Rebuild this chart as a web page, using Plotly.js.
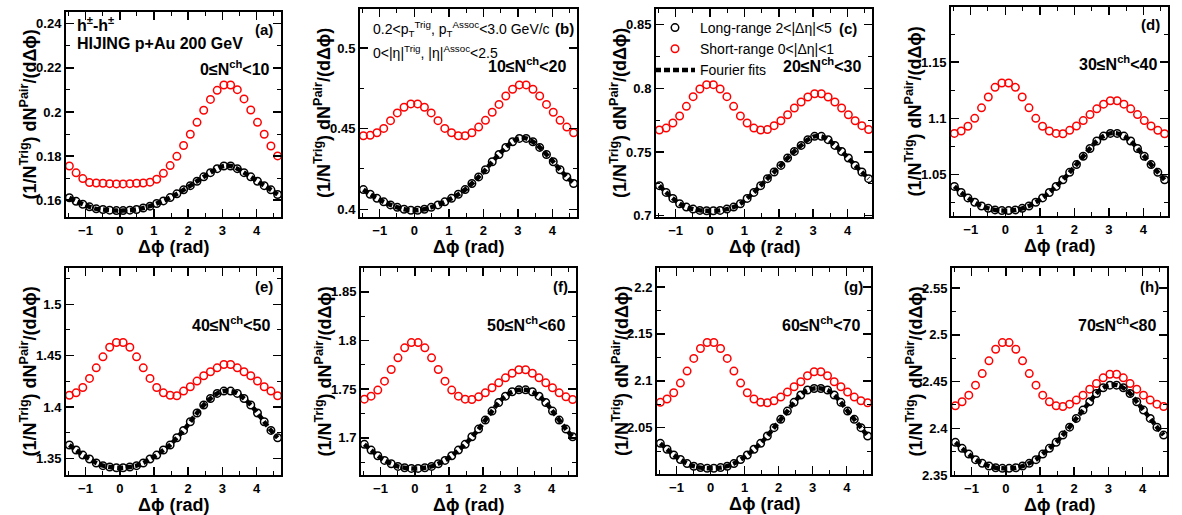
<!DOCTYPE html>
<html>
<head>
<meta charset="utf-8">
<script src="https://cdn.plot.ly/plotly-3.0.1.min.js"></script>
<style>
  html, body { margin: 0; padding: 0; background: #ffffff; }
  #chart { width: 1182px; height: 515px; }
</style>
</head>
<body>
<div id="chart"></div>
<script>
// Δφ bin centres (rad), 32 bins over [-π/2, 3π/2]
const dphi = [-1.473, -1.276, -1.080, -0.884, -0.687, -0.491, -0.295, -0.098,
               0.098,  0.295,  0.491,  0.687,  0.884,  1.080,  1.276,  1.473,
               1.669,  1.865,  2.062,  2.258,  2.454,  2.651,  2.847,  3.043,
               3.240,  3.436,  3.632,  3.829,  4.025,  4.222,  4.418,  4.614];

// Short-range (0<|Δη|<1) and long-range (2<|Δη|<5) per-trigger pair yields
const shortA = [0.1755,0.1724,0.1698,0.1680,0.1678,0.1677,0.1675,0.1674,0.1674,0.1675,0.1677,0.1678,0.1682,0.1695,0.1722,0.1757,
                0.1799,0.1848,0.1899,0.1953,0.2008,0.2057,0.2098,0.2122,0.2122,0.2101,0.2059,0.2009,0.1953,0.1899,0.1846,0.1801];
const longA  = [0.1611,0.1595,0.1582,0.1570,0.1561,0.1558,0.1555,0.1553,0.1553,0.1555,0.1558,0.1565,0.1573,0.1585,0.1597,0.1612,
                0.1629,0.1647,0.1666,0.1686,0.1706,0.1725,0.1743,0.1755,0.1755,0.1743,0.1725,0.1706,0.1686,0.1666,0.1647,0.1626];

const shortB = [0.4456,0.4459,0.4475,0.4502,0.4550,0.4598,0.4633,0.4654,0.4654,0.4633,0.4598,0.4550,0.4502,0.4475,0.4456,0.4456,
                0.4475,0.4510,0.4552,0.4602,0.4651,0.4703,0.4745,0.4772,0.4772,0.4745,0.4703,0.4651,0.4602,0.4552,0.4510,0.4475];
const longB  = [0.4122,0.4093,0.4068,0.4046,0.4027,0.4012,0.4000,0.3994,0.3994,0.4000,0.4012,0.4027,0.4046,0.4068,0.4093,0.4122,
                0.4160,0.4201,0.4245,0.4295,0.4340,0.4384,0.4419,0.4440,0.4440,0.4419,0.4384,0.4340,0.4295,0.4245,0.4201,0.4160];

const shortC = [0.7673,0.7688,0.7728,0.7783,0.7859,0.7935,0.7995,0.8029,0.8029,0.7995,0.7935,0.7859,0.7783,0.7728,0.7688,0.7673,
                0.7676,0.7707,0.7746,0.7793,0.7846,0.7893,0.7932,0.7958,0.7958,0.7932,0.7893,0.7846,0.7793,0.7746,0.7707,0.7676];
const longC  = [0.7236,0.7183,0.7136,0.7094,0.7068,0.7052,0.7042,0.7039,0.7039,0.7042,0.7052,0.7068,0.7094,0.7136,0.7183,0.7236,
                0.7291,0.7343,0.7395,0.7453,0.7505,0.7552,0.7597,0.7623,0.7623,0.7597,0.7552,0.7505,0.7453,0.7395,0.7343,0.7291];

const shortD = [1.0867,1.0888,1.0930,1.1001,1.1094,1.1190,1.1276,1.1315,1.1315,1.1276,1.1190,1.1094,1.1001,1.0930,1.0888,1.0867,
                1.0864,1.0894,1.0933,1.0981,1.1034,1.1085,1.1127,1.1157,1.1157,1.1127,1.1085,1.1034,1.0981,1.0933,1.0894,1.0864];
const longD  = [1.0396,1.0342,1.0294,1.0255,1.0222,1.0201,1.0187,1.0181,1.0181,1.0187,1.0201,1.0222,1.0255,1.0294,1.0342,1.0396,
                1.0455,1.0521,1.0590,1.0664,1.0733,1.0799,1.0843,1.0867,1.0867,1.0843,1.0799,1.0733,1.0664,1.0590,1.0521,1.0455];

const shortE = [1.4114,1.4138,1.4190,1.4278,1.4381,1.4488,1.4582,1.4628,1.4628,1.4582,1.4488,1.4381,1.4278,1.4190,1.4138,1.4114,
                1.4109,1.4155,1.4197,1.4252,1.4304,1.4343,1.4381,1.4414,1.4414,1.4381,1.4343,1.4304,1.4252,1.4197,1.4155,1.4109];
const longE  = [1.3630,1.3581,1.3532,1.3494,1.3455,1.3429,1.3416,1.3409,1.3409,1.3416,1.3429,1.3455,1.3494,1.3532,1.3581,1.3630,
                1.3701,1.3772,1.3856,1.3941,1.4019,1.4083,1.4132,1.4155,1.4155,1.4132,1.4083,1.4019,1.3941,1.3856,1.3772,1.3701];

const shortF = [1.7397,1.7428,1.7490,1.7582,1.7702,1.7822,1.7925,1.7979,1.7979,1.7925,1.7822,1.7702,1.7582,1.7490,1.7428,1.7397,
                1.7394,1.7421,1.7462,1.7514,1.7565,1.7616,1.7664,1.7699,1.7699,1.7664,1.7616,1.7565,1.7514,1.7462,1.7421,1.7394];
const longF  = [1.6932,1.6873,1.6815,1.6767,1.6733,1.6705,1.6692,1.6685,1.6685,1.6692,1.6705,1.6733,1.6767,1.6815,1.6873,1.6932,
                1.7010,1.7089,1.7182,1.7274,1.7363,1.7428,1.7473,1.7493,1.7493,1.7473,1.7428,1.7363,1.7274,1.7182,1.7089,1.7010];

const shortG = [2.0770,2.0805,2.0872,2.0975,2.1103,2.1238,2.1344,2.1408,2.1408,2.1344,2.1238,2.1103,2.0975,2.0872,2.0805,2.0770,
                2.0766,2.0787,2.0826,2.0879,2.0936,2.0989,2.1053,2.1096,2.1096,2.1053,2.0989,2.0936,2.0879,2.0826,2.0787,2.0766];
const longG  = [2.0333,2.0270,2.0209,2.0160,2.0117,2.0089,2.0074,2.0067,2.0067,2.0074,2.0089,2.0117,2.0160,2.0209,2.0270,2.0333,
                2.0411,2.0500,2.0589,2.0677,2.0770,2.0848,2.0901,2.0918,2.0918,2.0901,2.0848,2.0770,2.0677,2.0589,2.0500,2.0411];

const shortH = [2.4240,2.4283,2.4354,2.4461,2.4585,2.4721,2.4845,2.4916,2.4916,2.4845,2.4721,2.4585,2.4461,2.4354,2.4283,2.4240,
                2.4233,2.4258,2.4301,2.4354,2.4418,2.4479,2.4539,2.4578,2.4578,2.4539,2.4479,2.4418,2.4354,2.4301,2.4258,2.4233];
const longH  = [2.3849,2.3785,2.3724,2.3664,2.3625,2.3596,2.3578,2.3571,2.3571,2.3578,2.3596,2.3625,2.3664,2.3724,2.3785,2.3849,
                2.3927,2.4012,2.4105,2.4194,2.4283,2.4372,2.4432,2.4461,2.4461,2.4432,2.4372,2.4283,2.4194,2.4105,2.4012,2.3927];

const panelTags = ['(a)', '(b)', '(c)', '(d)', '(e)', '(f)', '(g)', '(h)'];
const nchLabels = ['0≤N<sup>ch</sup>&lt;10', '10≤N<sup>ch</sup>&lt;20', '20≤N<sup>ch</sup>&lt;30', '30≤N<sup>ch</sup>&lt;40',
                   '40≤N<sup>ch</sup>&lt;50', '50≤N<sup>ch</sup>&lt;60', '60≤N<sup>ch</sup>&lt;70', '70≤N<sup>ch</sup>&lt;80'];
const seriesNames = ['Long-range 2&lt;|Δη|&lt;5', 'Short-range 0&lt;|Δη|&lt;1', 'Fourier fits'];
const xTicks = [-1, 0, 1, 2, 3, 4];

const shortSets = [shortA, shortB, shortC, shortD, shortE, shortF, shortG, shortH];
const longSets  = [longA, longB, longC, longD, longE, longF, longG, longH];

// ---- layout geometry (pixels in a 1182 x 515 canvas) ----
const W = 1182, H = 515;
const frames = [
  {l: 66,  r: 281,  t: 12,  b: 217, y0: 0.1524, y1: 0.2453, dt: 0.02},
  {l: 360, r: 577,  t: 9,   b: 217, y0: 0.3952, y1: 0.5243, dt: 0.05},
  {l: 656, r: 872,  t: 9,   b: 217, y0: 0.6990, y1: 0.8623, dt: 0.05},
  {l: 951, r: 1168, t: 7,   b: 216, y0: 1.0133, y1: 1.1990, dt: 0.05},
  {l: 66,  r: 281,  t: 268, b: 475, y0: 1.3338, y1: 1.5353, dt: 0.05},
  {l: 361, r: 576,  t: 268, b: 475, y0: 1.6617, y1: 1.8746, dt: 0.05},
  {l: 657, r: 871,  t: 268, b: 474, y0: 2.0006, y1: 2.2202, dt: 0.05},
  {l: 952, r: 1167, t: 268, b: 475, y0: 2.3500, y1: 2.5714, dt: 0.05}
];

const FONT = 'Liberation Sans, Arial, Helvetica, sans-serif';
const RED = '#ff0000';
const BLACK = '#000000';

const px = x => x / W;
const py = y => 1 - y / H;

const traces = [];
const layout = {
  width: W, height: H,
  margin: {l: 0, r: 0, t: 0, b: 0},
  paper_bgcolor: '#ffffff',
  plot_bgcolor: '#ffffff',
  font: {family: FONT, color: BLACK},
  showlegend: true,
  legend: {
    x: px(650), y: py(12), xanchor: 'left', yanchor: 'top',
    bgcolor: 'rgba(0,0,0,0)', borderwidth: 0,
    font: {family: FONT, size: 14, color: BLACK},
    tracegroupgap: 0, itemwidth: 40
  },
  annotations: []
};

function note(text, x, y, xanchor, size, bold, extra) {
  return Object.assign({
    text: text, x: px(x), y: py(y), xref: 'paper', yref: 'paper',
    xanchor: xanchor, yanchor: 'middle', showarrow: false,
    font: {family: FONT, size: size, color: BLACK, weight: bold ? 700 : 400}
  }, extra || {});
}

frames.forEach((f, i) => {
  const sfx = i === 0 ? '' : String(i + 1);
  const xa = 'x' + sfx, ya = 'y' + sfx;
  const first = i === 0;

  traces.push({
    type: 'scatter', mode: 'markers', x: dphi, y: shortSets[i],
    xaxis: xa, yaxis: ya, name: seriesNames[1], legendrank: 2,
    showlegend: first, cliponaxis: true,
    marker: {symbol: 'circle-open', size: 7.5, color: RED, line: {width: 1.5, color: RED}}
  });
  traces.push({
    type: 'scatter', mode: 'markers', x: dphi, y: longSets[i],
    xaxis: xa, yaxis: ya, name: seriesNames[0], legendrank: 1,
    showlegend: first, cliponaxis: true,
    marker: {symbol: 'circle-open', size: 7.5, color: BLACK, line: {width: 1.5, color: BLACK}}
  });
  traces.push({
    type: 'scatter', mode: 'lines', x: dphi, y: longSets[i],
    xaxis: xa, yaxis: ya, name: seriesNames[2], legendrank: 3,
    showlegend: first,
    line: {color: BLACK, width: 4.5, dash: '6px,3px', shape: 'spline', smoothing: 1}
  });

  const axisCommon = {
    showgrid: false, zeroline: false,
    showline: true, linecolor: BLACK, linewidth: 2, mirror: 'ticks',
    ticks: 'inside', ticklen: 8, tickwidth: 1.5, tickcolor: BLACK,
    tickfont: {family: FONT, size: 13, color: BLACK, weight: 700},
    fixedrange: true
  };
  layout['xaxis' + sfx] = Object.assign({}, axisCommon, {
    domain: [px(f.l), px(f.r)],
    anchor: ya,
    range: [-Math.PI / 2, 3 * Math.PI / 2],
    tickmode: 'array', tickvals: xTicks,
    minor: {ticks: 'inside', ticklen: 4, dtick: 0.5, tick0: 0, tickwidth: 1, tickcolor: BLACK}
  });
  layout['yaxis' + sfx] = Object.assign({}, axisCommon, {
    domain: [1 - f.b / H, 1 - f.t / H],
    anchor: xa,
    range: [f.y0, f.y1],
    dtick: f.dt, tick0: 0,
    minor: {ticks: 'inside', ticklen: 4, dtick: f.dt / 2, tick0: 0, tickwidth: 1, tickcolor: BLACK}
  });

  // panel tag and multiplicity class
  layout.annotations.push(note(panelTags[i], f.r - 6, f.t + 18, 'right', 15, true));
  layout.annotations.push(note(nchLabels[i], f.r - 9, f.t + 56, 'right', 16, true));
  // axis titles
  layout.annotations.push(note('(1/N<sup>Trig</sup>) dN<sup>Pair</sup>/(dΔϕ)', f.l - 37, (f.t + f.b) / 2,
                               'center', 18, true, {textangle: -90}));
  layout.annotations.push(note('Δϕ (rad)', (f.l + f.r) / 2, f.b + 30, 'center', 18, true));
});

// event / kinematic descriptions
layout.annotations.push(note('h<sup>±</sup>-h<sup>±</sup>', 75, 24, 'left', 16, true));
layout.annotations.push(note('HIJING p+Au 200 GeV', 75, 43, 'left', 16, true));
layout.annotations.push(note('0.2&lt;p<sub>T</sub><sup>Trig</sup>, p<sub>T</sub><sup>Assoc</sup>&lt;3.0 GeV/c',
                             371, 29, 'left', 14, false));
layout.annotations.push(note('0&lt;|η|<sup>Trig</sup>, |η|<sup>Assoc</sup>&lt;2.5', 371, 52, 'left', 14, false));

// the tags of (b) and (c) sit right after their text lines
layout.annotations[4].x = px(576); layout.annotations[4].y = py(28);
layout.annotations[8].x = px(859); layout.annotations[8].y = py(28);

Plotly.newPlot('chart', traces, layout, {displayModeBar: false, staticPlot: true});
</script>
</body>
</html>
